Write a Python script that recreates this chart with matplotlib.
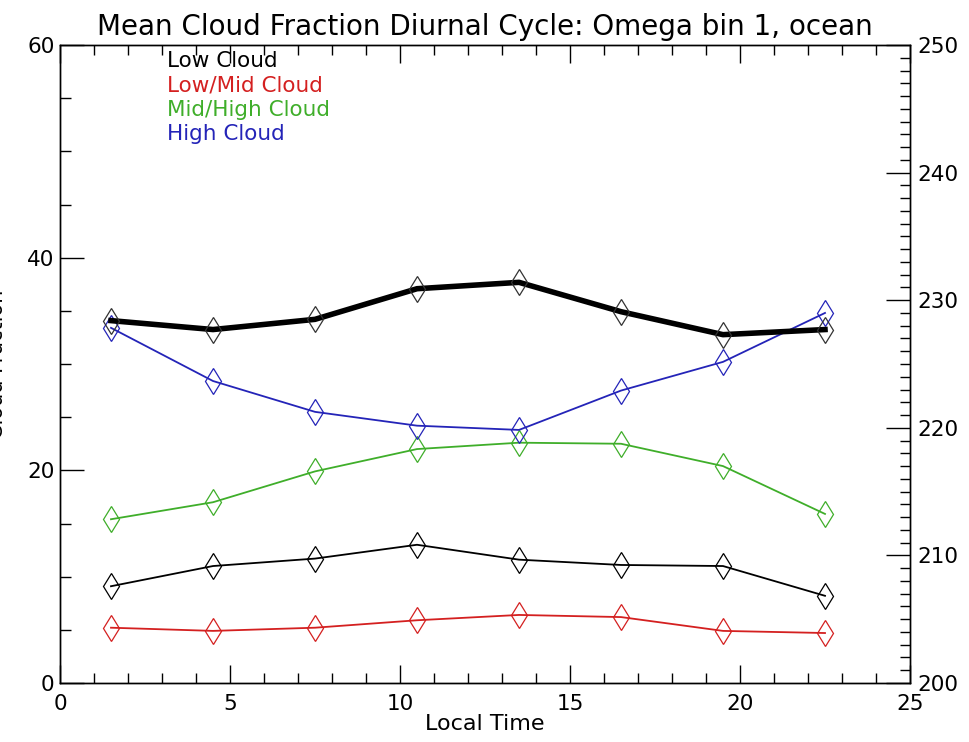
import matplotlib
matplotlib.use("Agg")
import matplotlib.pyplot as plt
from matplotlib.ticker import MultipleLocator

local_time = [1.5, 4.5, 7.5, 10.5, 13.5, 16.5, 19.5, 22.5]
low_cloud = [9.1, 11.0, 11.7, 13.0, 11.6, 11.1, 11.0, 8.2]
low_mid_cloud = [5.2, 4.9, 5.2, 5.9, 6.4, 6.2, 4.9, 4.7]
mid_high_cloud = [15.4, 17.0, 19.9, 22.0, 22.6, 22.5, 20.4, 15.9]
high_cloud = [33.4, 28.4, 25.5, 24.2, 23.8, 27.5, 30.2, 34.8]
right_series = [228.4, 227.7, 228.5, 230.9, 231.4, 229.1, 227.3, 227.7]

legend_labels = ["Low Cloud", "Low/Mid Cloud", "Mid/High Cloud", "High Cloud"]
colors = ["black", "#d42020", "#3fae2a", "#2424b8"]

plt.rcParams['font.family'] = ['DejaVu Sans']

fig = plt.figure(figsize=(9.69, 7.42), dpi=100)
ax = fig.add_axes([60/969, 1-683/742, 850/969, 638/742])
ax2 = ax.twinx()

mk = dict(marker='d', markersize=13, fillstyle='none', markeredgewidth=0.9)
for data, c in zip([low_cloud, low_mid_cloud, mid_high_cloud, high_cloud], colors):
    ax.plot(local_time, data, color=c, lw=1.3, markeredgecolor=c, **mk)

ax2.plot(local_time, right_series, color='black', lw=4.0, zorder=2)
ax2.plot(local_time, right_series, color='none', lw=0, markeredgecolor='#333333', zorder=3, **mk)

ax.set_xlim(0, 25)
ax.set_ylim(0, 60)
ax2.set_ylim(200, 250)

ax.xaxis.set_major_locator(MultipleLocator(5))
ax.xaxis.set_minor_locator(MultipleLocator(1))
ax.yaxis.set_major_locator(MultipleLocator(20))
ax.yaxis.set_minor_locator(MultipleLocator(5))
ax2.yaxis.set_major_locator(MultipleLocator(10))
ax2.yaxis.set_minor_locator(MultipleLocator(1))

ax.tick_params(axis='x', which='both', direction='in', top=True, bottom=True, labelsize=15.5, pad=8, width=1)
ax.tick_params(axis='x', which='major', length=13)
ax.tick_params(axis='x', which='minor', length=7)
ax.tick_params(axis='y', which='both', direction='in', left=True, right=False, labelsize=15.5, pad=4, width=1)
ax.tick_params(axis='y', which='major', length=17)
ax.tick_params(axis='y', which='minor', length=8)
ax2.tick_params(axis='y', which='both', direction='in', labelsize=15.5, pad=5, width=1)
ax2.tick_params(axis='y', which='major', length=17)
ax2.tick_params(axis='y', which='minor', length=7)

for a in (ax, ax2):
    for s in a.spines.values():
        s.set_linewidth(1.0)

ax.set_title("Mean Cloud Fraction Diurnal Cycle: Omega bin 1, ocean", fontsize=20, pad=7)
ax.set_xlabel("Local Time", fontsize=16, labelpad=0)
ax.set_ylabel("Cloud Fraction", fontsize=15, labelpad=28)
ax.yaxis.set_label_coords(-0.062, 0.5)
ax2.set_ylabel("Temperature (K)", fontsize=15)
ax2.yaxis.set_label_coords(1.076, 0.5)

for i, (lab, c) in enumerate(zip(legend_labels, colors)):
    ax.text(3.15, 59.4 - i * 2.27, lab, color=c, fontsize=15.5, va='top', ha='left')

fig.savefig("out.png", dpi=100)
